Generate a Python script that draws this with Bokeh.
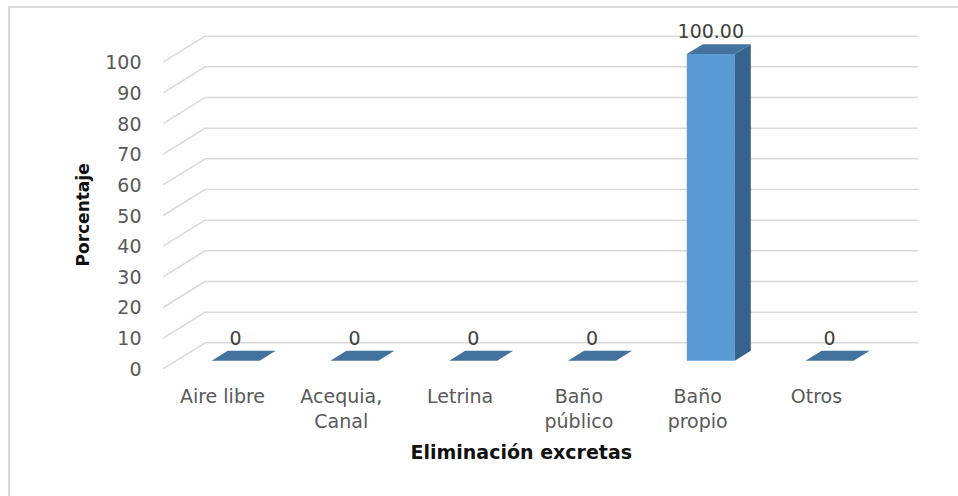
from bokeh.plotting import figure
from bokeh.models import FixedTicker, Range1d, ColumnDataSource, Title
from bokeh.core.properties import value
from bokeh.embed import file_html
from bokeh.resources import INLINE

# ---- data ---------------------------------------------------------------
categories = ["Aire libre", "Acequia,\nCanal", "Letrina", "Baño\npúblico", "Baño\npropio", "Otros"]
percentages = [0, 0, 0, 0, 100.0, 0]
y_ticks = [0, 10, 20, 30, 40, 50, 60, 70, 80, 90, 100]
x_title = "Eliminación excretas"
y_title = "Porcentaje"

# ---- pseudo-3D projection ----------------------------------------------
# moving from the front plane (z=0) to the back wall (z=1) shifts a point
# right by DEPTH_X category units and up by DEPTH_Y value units
DEPTH_X = 0.3535
DEPTH_Y = 8.48
BAR_Z0, BAR_Z1 = 0.313, 0.694   # front / back faces of the bars
BAR_HALF = 0.202                # half width of a bar in category units

FONT = value("DejaVu Sans")
GRID_COLOR = "#d9d9d9"


def proj(x, y, z):
    return x + z * DEPTH_X, y + z * DEPTH_Y


p = figure(width=958, height=496, title=None,
           x_range=Range1d(-0.606, 5.960), y_range=Range1d(-1.2, 113.6),
           output_backend="svg", toolbar_location=None,
           min_border_left=150, min_border_right=28,
           min_border_top=20, min_border_bottom=124)
p.xgrid.visible = False
p.ygrid.visible = False
p.outline_line_color = None
p.background_fill_color = "white"
p.border_fill_alpha = 0
# light chart-area frame along the top and left edges of the page
p.styles = {
    "background": ("linear-gradient(#d9d9d9, #d9d9d9) 8px 6px / 2px 100% no-repeat, "
                   "linear-gradient(#d9d9d9, #d9d9d9) 8px 6px / 100% 2px no-repeat, white"),
}

n = len(categories)
left_edge, right_edge = -0.5, n - 0.5

# back-wall gridlines and the diagonal lines of the left side wall
wall_xs, wall_ys, side_xs, side_ys = [], [], [], []
for t in y_ticks:
    x0b, yb = proj(left_edge, t, 1.0)
    x1b, _ = proj(right_edge, t, 1.0)
    wall_xs.append([x0b, x1b])
    wall_ys.append([yb, yb])
    side_xs.append([left_edge, x0b])
    side_ys.append([t, yb])
p.multi_line(wall_xs, wall_ys, line_color=GRID_COLOR, line_width=1.5)
p.multi_line(side_xs, side_ys, line_color=GRID_COLOR, line_width=1.5)

# bar faces
front_xs, front_ys, side_fx, side_fy, top_xs, top_ys = [], [], [], [], [], []
lab_x, lab_y, lab_t = [], [], []
for i, v in enumerate(percentages):
    xl, xr = i - BAR_HALF, i + BAR_HALF
    a = proj(xl, 0, BAR_Z0); b = proj(xr, 0, BAR_Z0)
    c = proj(xr, v, BAR_Z0); d = proj(xl, v, BAR_Z0)
    e = proj(xr, 0, BAR_Z1); f = proj(xr, v, BAR_Z1); g = proj(xl, v, BAR_Z1)
    front_xs.append([a[0], b[0], c[0], d[0]]); front_ys.append([a[1], b[1], c[1], d[1]])
    side_fx.append([b[0], e[0], f[0], c[0]]); side_fy.append([b[1], e[1], f[1], c[1]])
    top_xs.append([d[0], c[0], f[0], g[0]]); top_ys.append([d[1], c[1], f[1], g[1]])
    lab_x.append(proj(i, v, BAR_Z0)[0])
    lab_y.append(proj(i, v, BAR_Z1)[1])
    lab_t.append(f"{v:.2f}" if v else "0")

p.patches(front_xs, front_ys, fill_color="#5b9bd5", line_color=None)
p.patches(side_fx, side_fy, fill_color="#37628b", line_color=None)
p.patches(top_xs, top_ys, fill_color="#43729f", line_color=None)

labels = ColumnDataSource(dict(x=lab_x, y=lab_y, text=lab_t))
p.text(x="x", y="y", text="text", source=labels, text_align="center",
       text_baseline="alphabetic", y_offset=-13, text_font=FONT,
       text_font_size="19px", text_color="#404040")

# axes
p.yaxis.ticker = FixedTicker(ticks=y_ticks)
p.yaxis.axis_line_color = None
p.yaxis.major_tick_line_color = None
p.yaxis.minor_tick_line_color = None
p.yaxis.major_tick_in = 0
p.yaxis.major_tick_out = 0
p.yaxis.major_label_standoff = 9
p.yaxis.major_label_text_font = "DejaVu Sans"
p.yaxis.major_label_text_font_size = "19px"
p.yaxis.major_label_text_color = "#595959"

p.xaxis.ticker = FixedTicker(ticks=list(range(n)))
p.xaxis.major_label_overrides = {i: c for i, c in enumerate(categories)}
p.xaxis.axis_line_color = None
p.xaxis.major_tick_line_color = None
p.xaxis.minor_tick_line_color = None
p.xaxis.major_tick_in = 0
p.xaxis.major_tick_out = 0
p.xaxis.major_label_standoff = 12
p.xaxis.major_label_text_font = "DejaVu Sans"
p.xaxis.major_label_text_font_size = "19px"
p.xaxis.major_label_text_color = "#595959"
p.xaxis.major_label_text_line_height = 1.15

# axis titles (offset measured from the frame's left / bottom edge)
title_style = dict(text_font="DejaVu Sans", text_font_style="bold", text_color="#111111")
p.add_layout(Title(text=x_title, align="left", offset=260, standoff=8,
                   text_font_size="19px", **title_style), "below")
p.add_layout(Title(text=y_title, align="left", offset=106, standoff=20,
                   text_font_size="17px", **title_style), "left")

open("out.html", "w").write(file_html(p, INLINE))
